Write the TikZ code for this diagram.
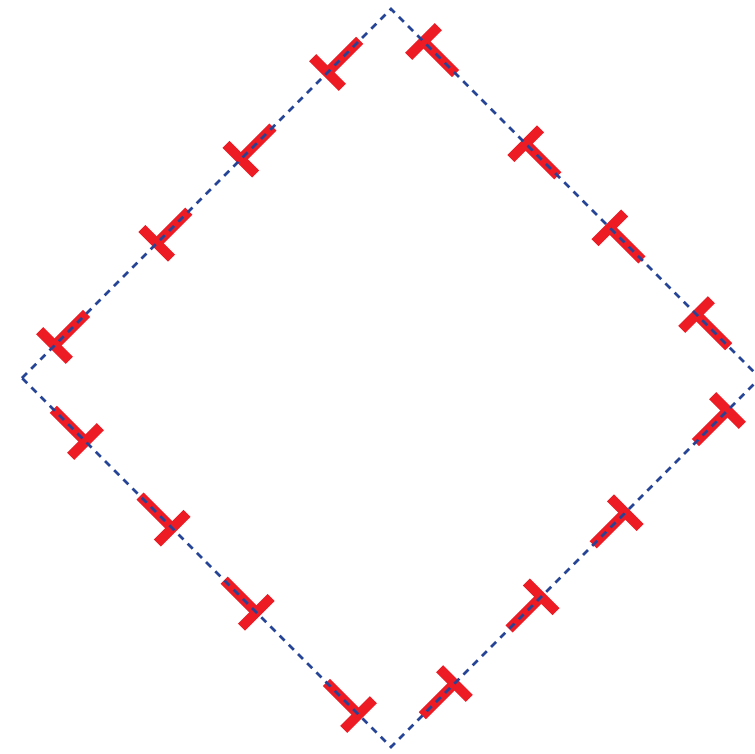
\documentclass[tikz,border=0pt]{standalone}
\usepackage{xcolor}
\usepackage{tikz}
\usetikzlibrary{calc}
\definecolor{edgeBlue}{RGB}{ 38, 68,150}
\definecolor{markRed} {RGB}{237, 28, 36}

\begin{document}
\begin{tikzpicture}[x=1pt,y=-1pt]
      \useasboundingbox (0,0) rectangle (755,753);
      \coordinate (L) at (22,378);
      \coordinate (T) at (391,9);
      \coordinate (R) at (760,378);
      \coordinate (B) at (391,747);
      % T marks, bar at the start of each side (clockwise)
      \foreach \a/\b in {L/T,T/R,R/B,B/L}{
        \foreach \t in {0.088,0.365,0.593,0.828}{
          \coordinate (m) at ($(\a)!\t!(\b)$);
          \draw[markRed,line width=10pt] (m) -- ($(\a)!\t+0.087!(\b)$);
          \draw[markRed,line width=10pt]
            ($(m)!21pt!90:(\b)$) -- ($(m)!21pt!-90:(\b)$);
        }
      }
      \draw[edgeBlue,line width=2.8pt,dash pattern=on 7pt off 6pt]
        (L) -- (T) -- (R) -- (B) -- cycle;
    \end{tikzpicture}
\end{document}
